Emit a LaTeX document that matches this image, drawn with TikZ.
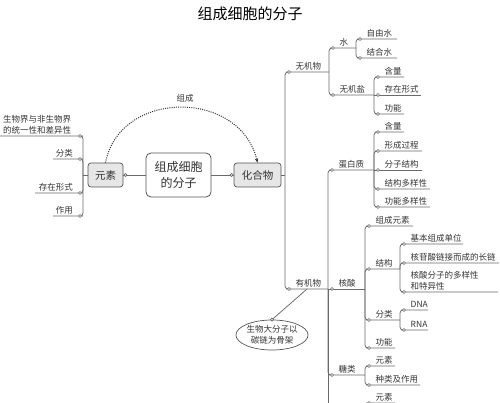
\documentclass[tikz,border=0pt]{standalone}
\usepackage{fontspec}
\setmainfont{Noto Sans CJK SC}
\usetikzlibrary{shapes.geometric,arrows.meta}
\definecolor{ln}{HTML}{6A6A6A}
\definecolor{tx}{HTML}{333333}
\definecolor{bx}{HTML}{E6E6E6}
\definecolor{bd}{HTML}{555555}
\tikzset{
  conn/.style={draw=ln,line width=0.75pt,rounded corners=3pt},
  lbl/.style={text=tx,font=\fontsize{8.5}{11}\selectfont,inner sep=0pt},
  dotc/.style={draw=ln,fill=white,line width=0.6pt},
  graybox/.style={draw=bd,fill=bx,line width=0.7pt,rounded corners=3pt,text=tx,
    font=\fontsize{10.5}{12}\selectfont,inner sep=0pt},
}
% right-hand child: name, spineX, parentY, childY, endX, label
\newcommand\kidR[6]{%
  \coordinate (#1) at (#2+4,#4);
  \coordinate (#1-e) at (#5,#4);
  \draw[conn] (#2,#3) |- (#1) -- (#1-e);
  \draw[dotc] (#1) circle (1.5pt);
  \node[lbl,anchor=south west,align=left] (#1-t) at (#2+10.5,#4-2) {#6};
}
% right-hand child on the parent line (straight)
\newcommand\kidS[5]{%
  \coordinate (#1) at (#2+4,#3);
  \coordinate (#1-e) at (#4,#3);
  \draw[conn] (#2,#3) -- (#1-e);
  \draw[dotc] (#1) circle (1.5pt);
  \node[lbl,anchor=south west,align=left] (#1-t) at (#2+10.5,#3-2) {#5};
}
% left-hand child: name, spineX, parentY, childY, endX, label
\newcommand\kidL[6]{%
  \coordinate (#1) at (#2-3,#4);
  \coordinate (#1-e) at (#5,#4);
  \draw[conn] (#2,#3) |- (#1) -- (#1-e);
  \draw[dotc] (#1) circle (1.5pt);
  \node[lbl,anchor=south east,align=right] (#1-t) at (#2-10,#4-2) {#6};
}
\begin{document}
\begin{tikzpicture}[x=1pt,y=-1pt]
\useasboundingbox (0,0) rectangle (500,403);

% title
\node[font=\fontsize{15}{18}\selectfont,inner sep=0pt] (title) at (250,14) {组成细胞的分子};

% central nodes
\node[draw=bd,fill=white,line width=0.8pt,rounded corners=5pt,minimum width=65pt,minimum height=44pt,
  align=center,font=\fontsize{12}{16}\selectfont,text=tx,inner sep=0pt] (center) at (178.5,175) {组成细胞\\的分子};
\node[graybox,minimum width=35pt,minimum height=24pt] (yuansu) at (105.5,175) {元素};
\node[graybox,minimum width=47pt,minimum height=24pt] (huahe) at (257.5,175) {化合物};

\draw[conn] (yuansu.east) -- (center.west);
\draw[dotc] ([xshift=2pt]yuansu.east) circle (1.5pt);
\draw[conn] (center.east) -- (huahe.west);
\draw[dotc] ([xshift=-2pt]huahe.west) circle (1.5pt);

% dotted arc
\draw[tx,line width=1pt,dash pattern=on 1pt off 1.2pt,-{Stealth[length=4.5pt,width=3.5pt]}]
  (yuansu.north) .. controls (120,89) and (240,89) .. (huahe.north);
\node[lbl] (zucheng) at (185,98) {组成};

% left side
\coordinate (lsp) at (83,175);
\draw[conn] (yuansu.west) -- (lsp);
\coordinate (l1) at (80,136);
\coordinate (l1-e) at (0,136);
\draw[conn] (lsp) |- (l1) -- (l1-e);
\draw[dotc] (l1) circle (1.5pt);
\node[lbl,anchor=south west,align=left] (l1-t) at (3,134) {生物界与非生物界\\的统一性和差异性};
\kidL{l2}{83}{175}{159}{53}{分类}
\kidL{l3}{83}{175}{193}{35}{存在形式}
\kidL{l4}{83}{175}{216}{53}{作用}

% right side
\draw[conn] (huahe.east) -- (285,175);
\kidR{wjw}{285}{175}{72}{329}{无机物}
\kidR{yjw}{285}{175}{289}{328}{有机物}

% inorganic
\kidR{shui}{329}{72}{48}{356}{水}
\kidR{wjy}{329}{72}{95}{374}{无机盐}
\kidR{zys}{356}{48}{39}{397}{自由水}
\kidR{jhs}{356}{48}{58}{397}{结合水}
\kidR{hl1}{374}{95}{77}{404}{含量}
\kidS{czxs}{374}{95}{421}{存在形式}
\kidR{gn1}{374}{95}{114}{404}{功能}

% organic
\draw[conn] (328,289) -- (328,412);
\kidR{dbz}{328}{289}{170}{374}{蛋白质}
\kidS{hs}{328}{289}{365}{核酸}
\kidR{tl}{328}{289}{375}{365}{糖类}

% protein
\kidR{hl2}{374}{170}{132}{404}{含量}
\kidR{xcgc}{374}{170}{151}{422}{形成过程}
\kidS{fzjg}{374}{170}{422}{分子结构}
\kidR{jgdy}{374}{170}{189}{430}{结构多样性}
\kidR{gndy}{374}{170}{207}{430}{功能多样性}

% nucleic acid
\kidR{zcys}{365}{289}{226}{413}{组成元素}
\kidR{jg}{365}{289}{269}{400}{结构}
\kidR{fl}{365}{289}{320}{400}{分类}
\kidR{gn2}{365}{289}{348}{395}{功能}
\kidR{jbdw}{400}{269}{244}{463}{基本组成单位}
\kidR{cl}{400}{269}{263}{499}{核苷酸链接而成的长链}
\kidR{dyx}{400}{269}{292}{498}{核酸分子的多样性\\和特异性}
\kidR{dna}{400}{320}{310}{428}{DNA}
\kidR{rna}{400}{320}{330}{428}{RNA}

% sugars
\kidR{ys2}{365}{375}{366}{395}{元素}
\kidR{zlzy}{365}{375}{385}{420}{种类及作用}
\kidR{ys3}{365}{414}{403}{395}{元素}

% ellipse
\node[ellipse,draw=bd,fill=white,line width=0.7pt,minimum width=61pt,minimum height=30pt,
  inner sep=0pt,align=center,text=tx,font=\fontsize{8.5}{11}\selectfont] (ell) at (272,335) {生物大分子以\\碳链为骨架};
\coordinate (ydx) at (307,289);
\draw[conn] (ydx) -- (ell.north);
\draw[dotc] (ell.north) circle (1.5pt);
\end{tikzpicture}
\end{document}
